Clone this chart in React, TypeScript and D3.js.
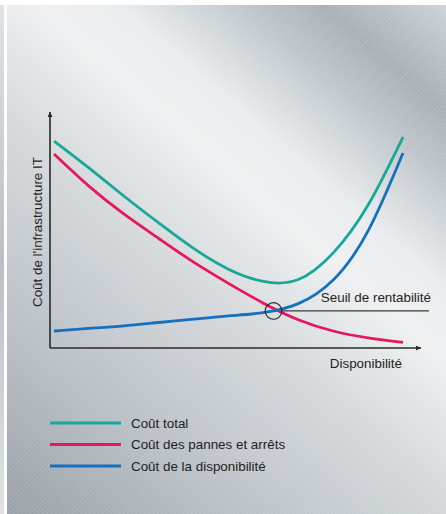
import React from "react";
import * as d3 from "d3";

// Availability (x, 0..100) and costs (y, 0..100)
const availability = [0, 10, 20, 30, 40, 50, 60, 70, 80, 90, 100];
const coutTotal = [87.7, 76.3, 64.4, 53.0, 42.2, 33.4, 28.2, 29.0, 40.3, 60.6, 89.4];
const coutPannes = [82.2, 68.6, 56.8, 46.4, 36.4, 27.4, 19.0, 12.0, 7.2, 4.3, 2.4];
const coutDispo = [7.2, 8.3, 9.4, 10.8, 12.2, 13.6, 15.0, 18.8, 28.8, 49.6, 82.6];
const seuil = { x: 62.9, y: 15.7 };

const seriesNames = ["Coût total", "Coût des pannes et arrêts", "Coût de la disponibilité"];
const seriesColors = ["#17a898", "#e8175d", "#1670bd"];
const seriesValues = [coutTotal, coutPannes, coutDispo];

const W = 446;
const H = 514;
const FONT = "'Liberation Sans', Arial, Helvetica, sans-serif";
const FS = 13.4;

export default function App() {
  const x = d3.scaleLinear().domain([0, 100]).range([54, 403]);
  const y = d3.scaleLinear().domain([0, 100]).range([348, 112]);
  const line = d3
    .line<number>()
    .x((_, i) => x(availability[i]))
    .y((d) => y(d))
    .curve(d3.curveNatural);

  const axisX0 = 50;
  const axisY0 = 348;
  const axisTopY = 112;
  const axisRightX = 421;
  const sx = x(seuil.x);
  const sy = y(seuil.y);

  return (
    <svg
      width={W}
      height={H}
      style={{ position: "absolute", left: 0, top: 0, display: "block" }}
      fontFamily={FONT}
    >
      <defs>
        <linearGradient id="bg" gradientUnits="userSpaceOnUse" x1={7} y1={514} x2={446} y2={5}>
          <stop offset="0" stopColor="#98a0a7" />
          <stop offset="0.22" stopColor="#b9c0c6" />
          <stop offset="0.45" stopColor="#d6dadd" />
          <stop offset="0.6" stopColor="#eef0f1" />
          <stop offset="0.68" stopColor="#eaedef" />
          <stop offset="0.8" stopColor="#c0c7cc" />
          <stop offset="0.88" stopColor="#a8b0b6" />
          <stop offset="1" stopColor="#cdd2d6" />
        </linearGradient>
        <linearGradient id="leftstrip" x1="0" y1="0" x2="0" y2="1">
          <stop offset="0" stopColor="#dfe3e6" />
          <stop offset="0.5" stopColor="#b9c0c6" />
          <stop offset="1" stopColor="#dfe3e6" />
        </linearGradient>
        <pattern id="hatch" width="3" height="3" patternUnits="userSpaceOnUse" patternTransform="rotate(45)">
          <line x1="0" y1="0" x2="0" y2="3" stroke="#ffffff" strokeWidth="1" strokeOpacity="0.22" />
        </pattern>
        <marker id="arrow" viewBox="0 0 10 10" refX="10" refY="5" markerWidth="8" markerHeight="5" markerUnits="userSpaceOnUse" orient="auto">
          <path d="M0,0 L10,5 L0,10 Z" fill="#2a2a2a" />
        </marker>
        <marker id="arrowUp" viewBox="0 0 10 10" refX="10" refY="5" markerWidth="9" markerHeight="5" markerUnits="userSpaceOnUse" orient="auto">
          <path d="M0,0 L10,5 L0,10 Z" fill="#2a2a2a" />
        </marker>
      </defs>

      <rect x={0} y={0} width={W} height={H} fill="#ffffff" />
      <rect x={0} y={5} width={4} height={H - 5} fill="url(#leftstrip)" />
      <rect x={7} y={5} width={W - 7} height={H - 5} fill="url(#bg)" />
      <rect x={7} y={5} width={W - 7} height={H - 5} fill="url(#hatch)" />

      {/* axes */}
      <line x1={axisX0} y1={axisY0} x2={axisX0} y2={axisTopY} stroke="#2a2a2a" strokeWidth={1.6} markerEnd="url(#arrowUp)" />
      <line x1={axisX0} y1={axisY0} x2={axisRightX} y2={axisY0} stroke="#2a2a2a" strokeWidth={1.6} markerEnd="url(#arrow)" />

      {/* seuil line */}
      <line x1={sx} y1={sy} x2={429} y2={sy} stroke="#3a3a3a" strokeWidth={1.2} />

      {/* curves */}
      {seriesValues.map((vals, i) => (
        <path key={i} d={line(vals) || ""} fill="none" stroke={seriesColors[i]} strokeWidth={2.8} strokeLinecap="butt" />
      ))}

      <circle cx={sx} cy={sy} r={8.3} fill="none" stroke="#222" strokeWidth={1.1} />

      {/* labels */}
      <text x={431} y={302} textAnchor="end" fontSize={FS} fill="#1e1e1e">Seuil de rentabilité</text>
      <text x={402} y={368} textAnchor="end" fontSize={FS} fill="#1e1e1e">Disponibilité</text>
      <text transform="translate(41.5,307) rotate(-90)" fontSize={FS} fill="#1e1e1e">Coût de l'infrastructure IT</text>

      {/* legend */}
      {seriesNames.map((name, i) => {
        const ly = 423 + i * 21.5;
        return (
          <g key={name}>
            <line x1={50} y1={ly} x2={121} y2={ly} stroke={seriesColors[i]} strokeWidth={3} />
            <text x={131} y={ly + 4.6} fontSize={FS} fill="#1e1e1e">{name}</text>
          </g>
        );
      })}
    </svg>
  );
}
